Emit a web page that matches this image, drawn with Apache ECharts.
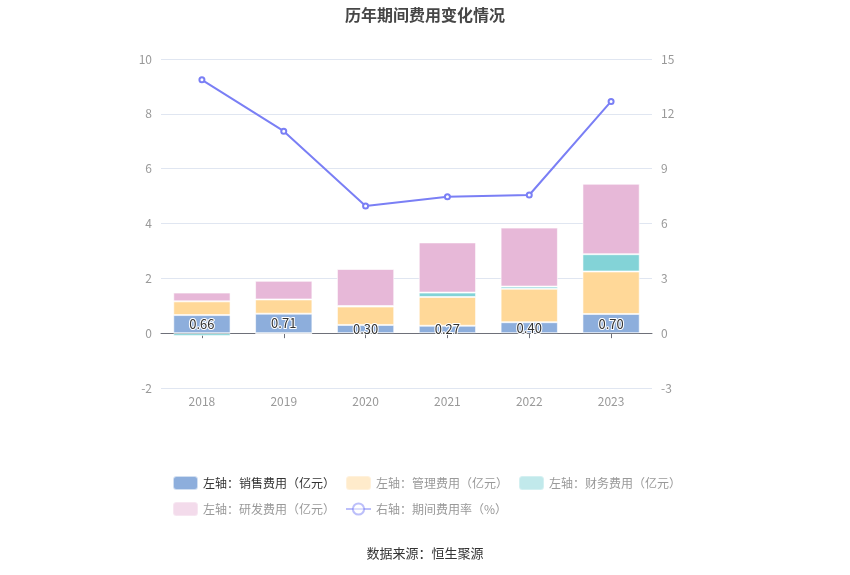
<!DOCTYPE html>
<html><head><meta charset="utf-8">
<script src="https://cdn.jsdelivr.net/npm/echarts@6/dist/echarts.min.js"></script>
<style>html,body{margin:0;padding:0;background:#fff}#c{width:850px;height:575px}</style>
</head><body><div id="c"></div>
<script>
const years = ['2018','2019','2020','2021','2022','2023'];
const sales = [0.66, 0.71, 0.30, 0.27, 0.40, 0.70];
const admin = [0.50, 0.52, 0.67, 1.05, 1.22, 1.55];
const finance = [-0.10, -0.02, 0.02, 0.16, 0.08, 0.63];
const rnd = [0.32, 0.68, 1.35, 1.83, 2.15, 2.57];
const rate = [13.86, 11.05, 6.96, 7.47, 7.56, 12.68];
const leftTicks = [-2, 10, 2];
const rightTicks = [-3, 15, 3];
const names = ['左轴：销售费用（亿元）','左轴：管理费用（亿元）','左轴：财务费用（亿元）','左轴：研发费用（亿元）','右轴：期间费用率（%）'];

const chart = echarts.init(document.getElementById('c'));
const font = '"Microsoft YaHei","Noto Sans CJK SC",sans-serif';
const barCommon = {type:'bar', stack:'a', barWidth:'70%', xAxisIndex:0, yAxisIndex:0,
  itemStyle:{borderColor:'rgba(255,255,255,0.6)', borderWidth:1}};
chart.setOption({
  animation:false,
  textStyle:{fontFamily:font},
  title:{text:'历年期间费用变化情况', left:'center', top:2,
    textStyle:{fontSize:16, fontWeight:'bold', color:'#464646', fontFamily:font}},
  grid:{left:161, right:198, top:59, bottom:187},
  legend:{left:167, top:470, width:560, itemWidth:25, itemHeight:14, itemGap:10,
    textStyle:{fontSize:12, color:'#999', lineHeight:14},
    data:[
      {name:names[0], textStyle:{color:'#333'}},
      {name:names[1], itemStyle:{opacity:0.5}},
      {name:names[2], itemStyle:{opacity:0.5}},
      {name:names[3], itemStyle:{opacity:0.5}},
      {name:names[4], itemStyle:{opacity:0.5}, lineStyle:{opacity:0.5}}
    ]},
  graphic:[{type:'text', left:'center', top:547,
    style:{text:'数据来源：恒生聚源', fontSize:13, fill:'#333', fontFamily:font}}],
  xAxis:[
    {type:'category', data:years, position:'bottom',
      axisLine:{show:false}, axisTick:{show:false},
      axisLabel:{color:'#999', fontSize:12, margin:7}},
    {type:'category', data:years, position:'bottom',
      axisLine:{show:true, onZero:true, onZeroAxisIndex:0, lineStyle:{color:'#6E7079'}},
      axisTick:{show:true, alignWithLabel:true, lineStyle:{color:'#6E7079'}},
      axisLabel:{show:false}}
  ],
  yAxis:[
    {type:'value', min:leftTicks[0], max:leftTicks[1], interval:leftTicks[2],
      axisLine:{show:false}, axisTick:{show:false},
      axisLabel:{color:'#999', fontSize:12, margin:9},
      splitLine:{lineStyle:{color:'#E0E6F1'}}},
    {type:'value', min:rightTicks[0], max:rightTicks[1], interval:rightTicks[2],
      axisLine:{show:false}, axisTick:{show:false},
      axisLabel:{color:'#999', fontSize:12, margin:9},
      splitLine:{show:false}}
  ],
  series:[
    Object.assign({}, barCommon, {name:names[0], data:sales, itemStyle:Object.assign({}, barCommon.itemStyle, {color:'#8DAEDC'}),
      label:{show:true, position:'inside', color:'#333', fontSize:13,
        textBorderColor:'#fff', textBorderWidth:2, formatter:p=>p.value.toFixed(2)}}),
    Object.assign({}, barCommon, {name:names[1], data:admin, itemStyle:Object.assign({}, barCommon.itemStyle, {color:'#FFD898'})}),
    Object.assign({}, barCommon, {name:names[2], data:finance, itemStyle:Object.assign({}, barCommon.itemStyle, {color:'#83D3D7'})}),
    Object.assign({}, barCommon, {name:names[3], data:rnd, itemStyle:Object.assign({}, barCommon.itemStyle, {color:'#E7B8D8'})}),
    {type:'line', name:names[4], data:rate, yAxisIndex:1, xAxisIndex:0,
      symbol:'emptyCircle', symbolSize:5, z:10,
      lineStyle:{color:'#7A7FF5', width:2}, itemStyle:{color:'#7A7FF5', borderWidth:1.5}}
  ]
});
</script></body></html>
